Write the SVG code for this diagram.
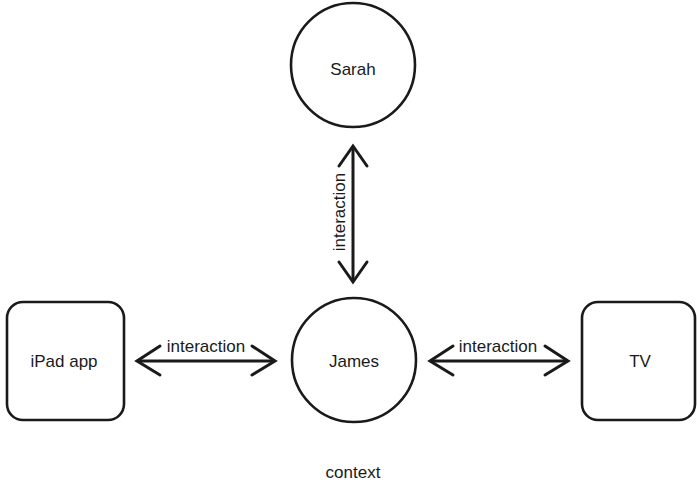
<svg xmlns="http://www.w3.org/2000/svg" width="697" height="485" viewBox="0 0 697 485">
  <style>
    .node { fill: #ffffff; stroke: #1a1a1a; stroke-width: 2.6; }
    .label { font-family: "Liberation Sans", Arial, Helvetica, sans-serif; font-size: 17px; fill: #1a1a1a; text-anchor: middle; }
    .link { fill: none; stroke: #1a1a1a; stroke-width: 3; stroke-linecap: round; stroke-linejoin: miter; }
  </style>
  <rect width="697" height="485" fill="#ffffff"/>

  <!-- people and devices -->
  <g id="sarah">
    <circle class="node" cx="353" cy="65" r="62"/>
    <text class="label" x="353" y="75">Sarah</text>
  </g>
  <g id="james">
    <circle class="node" cx="354" cy="360" r="62"/>
    <text class="label" x="354" y="367">James</text>
  </g>
  <g id="ipad-app">
    <rect class="node" x="7" y="302" width="117" height="118" rx="16" ry="16"/>
    <text class="label" x="64" y="367">iPad app</text>
  </g>
  <g id="tv">
    <rect class="node" x="582" y="302" width="113" height="118" rx="16" ry="16"/>
    <text class="label" x="640" y="367">TV</text>
  </g>

  <!-- two-way interaction arrows -->
  <g id="connectors">
    <g id="sarah-james">
      <line class="link" x1="353" y1="147" x2="353" y2="281"/>
      <polyline class="link" points="339,166 353,146 367,166"/>
      <polyline class="link" points="339,262 353,282 367,262"/>
      <text class="label" transform="translate(345 212) rotate(-90)">interaction</text>
    </g>
    <g id="ipad-james">
      <line class="link" x1="138" y1="361" x2="274" y2="361"/>
      <polyline class="link" points="160,346 137,361 160,375"/>
      <polyline class="link" points="252,346 275,361 252,375"/>
      <text class="label" x="206" y="352">interaction</text>
    </g>
    <g id="james-tv">
      <line class="link" x1="431" y1="361" x2="567" y2="361"/>
      <polyline class="link" points="453,346 430,361 453,375"/>
      <polyline class="link" points="545,346 568,361 545,375"/>
      <text class="label" x="498" y="352">interaction</text>
    </g>
  </g>

  <text class="label" x="353" y="478">context</text>
</svg>
